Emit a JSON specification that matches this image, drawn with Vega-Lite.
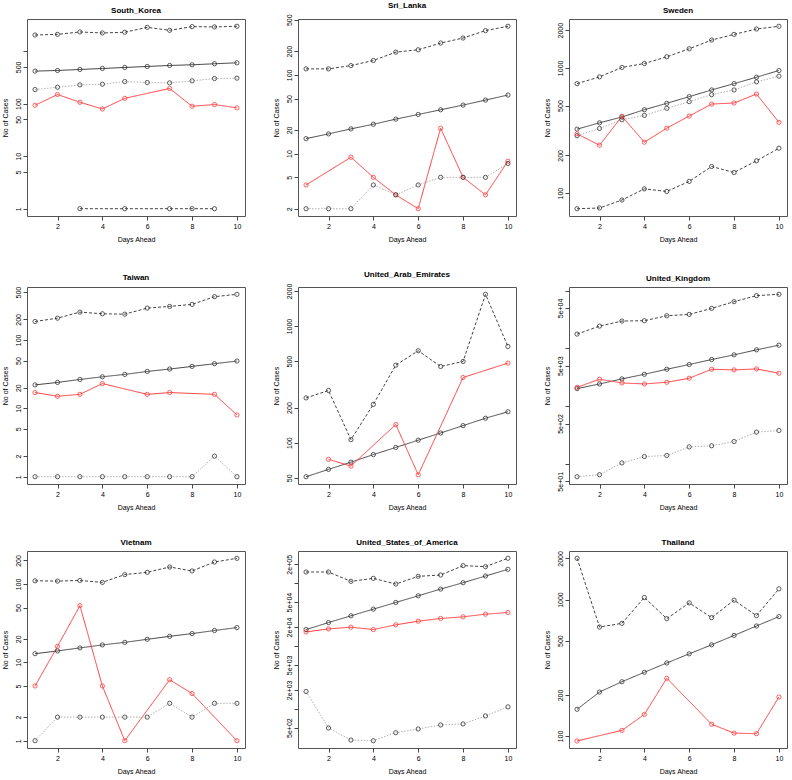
{
  "$schema": "https://vega.github.io/schema/vega-lite/v6.json",
  "padding": {"left": 0, "top": 1, "right": 0, "bottom": 0},
  "config": {
    "font": "Liberation Sans",
    "view": {"stroke": "#555", "strokeWidth": 1},
    "axis": {"grid": false, "domain": false, "tickColor": "#444", "tickSize": 4, "labelFontSize": 7, "titleFontSize": 7, "labelFont": "Liberation Sans", "titleFont": "Liberation Sans", "labelColor": "#000", "titleColor": "#000", "titleFontWeight": "normal", "labelOverlap": false, "labelFlush": false, "labelPadding": 2},
    "axisX": {"titlePadding": 6},
    "axisY": {"labelAngle": -90, "labelAlign": "center", "labelBaseline": "bottom", "titlePadding": 6},
    "title": {"fontSize": 8, "font": "Liberation Sans", "fontWeight": "bold", "offset": 4, "color": "#000"}
  },
  "data": {"values": [
    {"c":"South_Korea","s":"upper","d":1,"v":2020},{"c":"South_Korea","s":"upper","d":2,"v":2080},{"c":"South_Korea","s":"upper","d":3,"v":2310},{"c":"South_Korea","s":"upper","d":4,"v":2210},{"c":"South_Korea","s":"upper","d":5,"v":2280},{"c":"South_Korea","s":"upper","d":6,"v":2830},{"c":"South_Korea","s":"upper","d":7,"v":2480},{"c":"South_Korea","s":"upper","d":8,"v":2920},{"c":"South_Korea","s":"upper","d":9,"v":2880},{"c":"South_Korea","s":"upper","d":10,"v":2960},
    {"c":"South_Korea","s":"pred","d":1,"v":415},{"c":"South_Korea","s":"pred","d":2,"v":427},{"c":"South_Korea","s":"pred","d":3,"v":446},{"c":"South_Korea","s":"pred","d":4,"v":466},{"c":"South_Korea","s":"pred","d":5,"v":487},{"c":"South_Korea","s":"pred","d":6,"v":509},{"c":"South_Korea","s":"pred","d":7,"v":532},{"c":"South_Korea","s":"pred","d":8,"v":548},{"c":"South_Korea","s":"pred","d":9,"v":573},{"c":"South_Korea","s":"pred","d":10,"v":598},
    {"c":"South_Korea","s":"other","d":1,"v":185},{"c":"South_Korea","s":"other","d":2,"v":205},{"c":"South_Korea","s":"other","d":3,"v":227},{"c":"South_Korea","s":"other","d":4,"v":234},{"c":"South_Korea","s":"other","d":5,"v":263},{"c":"South_Korea","s":"other","d":6,"v":252},{"c":"South_Korea","s":"other","d":7,"v":248},{"c":"South_Korea","s":"other","d":8,"v":271},{"c":"South_Korea","s":"other","d":9,"v":300},{"c":"South_Korea","s":"other","d":10,"v":305},
    {"c":"South_Korea","s":"actual","d":1,"v":93},{"c":"South_Korea","s":"actual","d":2,"v":149},{"c":"South_Korea","s":"actual","d":3,"v":106},{"c":"South_Korea","s":"actual","d":4,"v":79},{"c":"South_Korea","s":"actual","d":5,"v":126},{"c":"South_Korea","s":"actual","d":7,"v":194},{"c":"South_Korea","s":"actual","d":8,"v":89},{"c":"South_Korea","s":"actual","d":9,"v":96},{"c":"South_Korea","s":"actual","d":10,"v":83},
    {"c":"South_Korea","s":"lower","d":3,"v":1},{"c":"South_Korea","s":"lower","d":5,"v":1},{"c":"South_Korea","s":"lower","d":7,"v":1},{"c":"South_Korea","s":"lower","d":8,"v":1},{"c":"South_Korea","s":"lower","d":9,"v":1},

    {"c":"Sri_Lanka","s":"upper","d":1,"v":119},{"c":"Sri_Lanka","s":"upper","d":2,"v":119},{"c":"Sri_Lanka","s":"upper","d":3,"v":131},{"c":"Sri_Lanka","s":"upper","d":4,"v":152},{"c":"Sri_Lanka","s":"upper","d":5,"v":194},{"c":"Sri_Lanka","s":"upper","d":6,"v":208},{"c":"Sri_Lanka","s":"upper","d":7,"v":253},{"c":"Sri_Lanka","s":"upper","d":8,"v":293},{"c":"Sri_Lanka","s":"upper","d":9,"v":364},{"c":"Sri_Lanka","s":"upper","d":10,"v":413},
    {"c":"Sri_Lanka","s":"pred","d":1,"v":15.5},{"c":"Sri_Lanka","s":"pred","d":2,"v":17.8},{"c":"Sri_Lanka","s":"pred","d":3,"v":20.6},{"c":"Sri_Lanka","s":"pred","d":4,"v":23.6},{"c":"Sri_Lanka","s":"pred","d":5,"v":27.4},{"c":"Sri_Lanka","s":"pred","d":6,"v":31.4},{"c":"Sri_Lanka","s":"pred","d":7,"v":36.0},{"c":"Sri_Lanka","s":"pred","d":8,"v":41.3},{"c":"Sri_Lanka","s":"pred","d":9,"v":47.8},{"c":"Sri_Lanka","s":"pred","d":10,"v":55.4},
    {"c":"Sri_Lanka","s":"actual","d":1,"v":4},{"c":"Sri_Lanka","s":"actual","d":3,"v":9},{"c":"Sri_Lanka","s":"actual","d":4,"v":5},{"c":"Sri_Lanka","s":"actual","d":5,"v":3},{"c":"Sri_Lanka","s":"actual","d":6,"v":2},{"c":"Sri_Lanka","s":"actual","d":7,"v":21},{"c":"Sri_Lanka","s":"actual","d":8,"v":5},{"c":"Sri_Lanka","s":"actual","d":9,"v":3},{"c":"Sri_Lanka","s":"actual","d":10,"v":8},
    {"c":"Sri_Lanka","s":"other","d":1,"v":2},{"c":"Sri_Lanka","s":"other","d":2,"v":2},{"c":"Sri_Lanka","s":"other","d":3,"v":2},{"c":"Sri_Lanka","s":"other","d":4,"v":4},{"c":"Sri_Lanka","s":"other","d":5,"v":3},{"c":"Sri_Lanka","s":"other","d":6,"v":4},{"c":"Sri_Lanka","s":"other","d":7,"v":5},{"c":"Sri_Lanka","s":"other","d":8,"v":5},{"c":"Sri_Lanka","s":"other","d":9,"v":5},{"c":"Sri_Lanka","s":"other","d":10,"v":7.5},

    {"c":"Sweden","s":"upper","d":1,"v":748},{"c":"Sweden","s":"upper","d":2,"v":847},{"c":"Sweden","s":"upper","d":3,"v":1007},{"c":"Sweden","s":"upper","d":4,"v":1083},{"c":"Sweden","s":"upper","d":5,"v":1225},{"c":"Sweden","s":"upper","d":6,"v":1420},{"c":"Sweden","s":"upper","d":7,"v":1667},{"c":"Sweden","s":"upper","d":8,"v":1850},{"c":"Sweden","s":"upper","d":9,"v":2042},{"c":"Sweden","s":"upper","d":10,"v":2147},
    {"c":"Sweden","s":"pred","d":1,"v":324},{"c":"Sweden","s":"pred","d":2,"v":364},{"c":"Sweden","s":"pred","d":3,"v":405},{"c":"Sweden","s":"pred","d":4,"v":463},{"c":"Sweden","s":"pred","d":5,"v":521},{"c":"Sweden","s":"pred","d":6,"v":589},{"c":"Sweden","s":"pred","d":7,"v":666},{"c":"Sweden","s":"pred","d":8,"v":748},{"c":"Sweden","s":"pred","d":9,"v":842},{"c":"Sweden","s":"pred","d":10,"v":952},
    {"c":"Sweden","s":"other","d":1,"v":287},{"c":"Sweden","s":"other","d":2,"v":328},{"c":"Sweden","s":"other","d":3,"v":385},{"c":"Sweden","s":"other","d":4,"v":417},{"c":"Sweden","s":"other","d":5,"v":475},{"c":"Sweden","s":"other","d":6,"v":537},{"c":"Sweden","s":"other","d":7,"v":611},{"c":"Sweden","s":"other","d":8,"v":666},{"c":"Sweden","s":"other","d":9,"v":773},{"c":"Sweden","s":"other","d":10,"v":858},
    {"c":"Sweden","s":"actual","d":1,"v":297},{"c":"Sweden","s":"actual","d":2,"v":241},{"c":"Sweden","s":"actual","d":3,"v":410},{"c":"Sweden","s":"actual","d":4,"v":255},{"c":"Sweden","s":"actual","d":5,"v":330},{"c":"Sweden","s":"actual","d":6,"v":412},{"c":"Sweden","s":"actual","d":7,"v":514},{"c":"Sweden","s":"actual","d":8,"v":524},{"c":"Sweden","s":"actual","d":9,"v":618},{"c":"Sweden","s":"actual","d":10,"v":367},
    {"c":"Sweden","s":"lower","d":1,"v":75},{"c":"Sweden","s":"lower","d":2,"v":76},{"c":"Sweden","s":"lower","d":3,"v":88},{"c":"Sweden","s":"lower","d":4,"v":108},{"c":"Sweden","s":"lower","d":5,"v":103},{"c":"Sweden","s":"lower","d":6,"v":124},{"c":"Sweden","s":"lower","d":7,"v":163},{"c":"Sweden","s":"lower","d":8,"v":146},{"c":"Sweden","s":"lower","d":9,"v":181},{"c":"Sweden","s":"lower","d":10,"v":228},

    {"c":"Taiwan","s":"upper","d":1,"v":186},{"c":"Taiwan","s":"upper","d":2,"v":208},{"c":"Taiwan","s":"upper","d":3,"v":255},{"c":"Taiwan","s":"upper","d":4,"v":241},{"c":"Taiwan","s":"upper","d":5,"v":238},{"c":"Taiwan","s":"upper","d":6,"v":292},{"c":"Taiwan","s":"upper","d":7,"v":309},{"c":"Taiwan","s":"upper","d":8,"v":331},{"c":"Taiwan","s":"upper","d":9,"v":429},{"c":"Taiwan","s":"upper","d":10,"v":464},
    {"c":"Taiwan","s":"pred","d":1,"v":22.0},{"c":"Taiwan","s":"pred","d":2,"v":23.9},{"c":"Taiwan","s":"pred","d":3,"v":26.4},{"c":"Taiwan","s":"pred","d":4,"v":28.9},{"c":"Taiwan","s":"pred","d":5,"v":31.3},{"c":"Taiwan","s":"pred","d":6,"v":34.6},{"c":"Taiwan","s":"pred","d":7,"v":37.5},{"c":"Taiwan","s":"pred","d":8,"v":41.0},{"c":"Taiwan","s":"pred","d":9,"v":44.9},{"c":"Taiwan","s":"pred","d":10,"v":49.1},
    {"c":"Taiwan","s":"actual","d":1,"v":17},{"c":"Taiwan","s":"actual","d":2,"v":15},{"c":"Taiwan","s":"actual","d":3,"v":16},{"c":"Taiwan","s":"actual","d":4,"v":23},{"c":"Taiwan","s":"actual","d":6,"v":16},{"c":"Taiwan","s":"actual","d":7,"v":17},{"c":"Taiwan","s":"actual","d":9,"v":16},{"c":"Taiwan","s":"actual","d":10,"v":8},
    {"c":"Taiwan","s":"other","d":1,"v":1},{"c":"Taiwan","s":"other","d":2,"v":1},{"c":"Taiwan","s":"other","d":3,"v":1},{"c":"Taiwan","s":"other","d":4,"v":1},{"c":"Taiwan","s":"other","d":5,"v":1},{"c":"Taiwan","s":"other","d":6,"v":1},{"c":"Taiwan","s":"other","d":7,"v":1},{"c":"Taiwan","s":"other","d":8,"v":1},{"c":"Taiwan","s":"other","d":9,"v":2},{"c":"Taiwan","s":"other","d":10,"v":1},

    {"c":"United_Arab_Emirates","s":"upper","d":1,"v":242},{"c":"United_Arab_Emirates","s":"upper","d":2,"v":280},{"c":"United_Arab_Emirates","s":"upper","d":3,"v":106},{"c":"United_Arab_Emirates","s":"upper","d":4,"v":213},{"c":"United_Arab_Emirates","s":"upper","d":5,"v":462},{"c":"United_Arab_Emirates","s":"upper","d":6,"v":614},{"c":"United_Arab_Emirates","s":"upper","d":7,"v":450},{"c":"United_Arab_Emirates","s":"upper","d":8,"v":497},{"c":"United_Arab_Emirates","s":"upper","d":9,"v":1871},{"c":"United_Arab_Emirates","s":"upper","d":10,"v":668},
    {"c":"United_Arab_Emirates","s":"pred","d":1,"v":51},{"c":"United_Arab_Emirates","s":"pred","d":2,"v":59},{"c":"United_Arab_Emirates","s":"pred","d":3,"v":68},{"c":"United_Arab_Emirates","s":"pred","d":4,"v":79},{"c":"United_Arab_Emirates","s":"pred","d":5,"v":91},{"c":"United_Arab_Emirates","s":"pred","d":6,"v":105},{"c":"United_Arab_Emirates","s":"pred","d":7,"v":121},{"c":"United_Arab_Emirates","s":"pred","d":8,"v":140},{"c":"United_Arab_Emirates","s":"pred","d":9,"v":162},{"c":"United_Arab_Emirates","s":"pred","d":10,"v":184},
    {"c":"United_Arab_Emirates","s":"actual","d":2,"v":72},{"c":"United_Arab_Emirates","s":"actual","d":3,"v":63},{"c":"United_Arab_Emirates","s":"actual","d":5,"v":143},{"c":"United_Arab_Emirates","s":"actual","d":6,"v":53},{"c":"United_Arab_Emirates","s":"actual","d":8,"v":362},{"c":"United_Arab_Emirates","s":"actual","d":10,"v":481},

    {"c":"United_Kingdom","s":"upper","d":1,"v":17660},{"c":"United_Kingdom","s":"upper","d":2,"v":24300},{"c":"United_Kingdom","s":"upper","d":3,"v":29700},{"c":"United_Kingdom","s":"upper","d":4,"v":30100},{"c":"United_Kingdom","s":"upper","d":5,"v":36700},{"c":"United_Kingdom","s":"upper","d":6,"v":38700},{"c":"United_Kingdom","s":"upper","d":7,"v":49200},{"c":"United_Kingdom","s":"upper","d":8,"v":64300},{"c":"United_Kingdom","s":"upper","d":9,"v":81800},{"c":"United_Kingdom","s":"upper","d":10,"v":86300},
    {"c":"United_Kingdom","s":"pred","d":1,"v":2010},{"c":"United_Kingdom","s":"pred","d":2,"v":2420},{"c":"United_Kingdom","s":"pred","d":3,"v":2960},{"c":"United_Kingdom","s":"pred","d":4,"v":3560},{"c":"United_Kingdom","s":"pred","d":5,"v":4350},{"c":"United_Kingdom","s":"pred","d":6,"v":5250},{"c":"United_Kingdom","s":"pred","d":7,"v":6410},{"c":"United_Kingdom","s":"pred","d":8,"v":7720},{"c":"United_Kingdom","s":"pred","d":9,"v":9430},{"c":"United_Kingdom","s":"pred","d":10,"v":11350},
    {"c":"United_Kingdom","s":"actual","d":1,"v":2120},{"c":"United_Kingdom","s":"actual","d":2,"v":2920},{"c":"United_Kingdom","s":"actual","d":3,"v":2520},{"c":"United_Kingdom","s":"actual","d":4,"v":2420},{"c":"United_Kingdom","s":"actual","d":5,"v":2590},{"c":"United_Kingdom","s":"actual","d":6,"v":3040},{"c":"United_Kingdom","s":"actual","d":7,"v":4350},{"c":"United_Kingdom","s":"actual","d":8,"v":4240},{"c":"United_Kingdom","s":"actual","d":9,"v":4410},{"c":"United_Kingdom","s":"actual","d":10,"v":3710},
    {"c":"United_Kingdom","s":"other","d":1,"v":60},{"c":"United_Kingdom","s":"other","d":2,"v":65},{"c":"United_Kingdom","s":"other","d":3,"v":104},{"c":"United_Kingdom","s":"other","d":4,"v":134},{"c":"United_Kingdom","s":"other","d":5,"v":140},{"c":"United_Kingdom","s":"other","d":6,"v":197},{"c":"United_Kingdom","s":"other","d":7,"v":206},{"c":"United_Kingdom","s":"other","d":8,"v":244},{"c":"United_Kingdom","s":"other","d":9,"v":355},{"c":"United_Kingdom","s":"other","d":10,"v":379},

    {"c":"Vietnam","s":"upper","d":1,"v":110},{"c":"Vietnam","s":"upper","d":2,"v":109},{"c":"Vietnam","s":"upper","d":3,"v":111},{"c":"Vietnam","s":"upper","d":4,"v":105},{"c":"Vietnam","s":"upper","d":5,"v":132},{"c":"Vietnam","s":"upper","d":6,"v":141},{"c":"Vietnam","s":"upper","d":7,"v":165},{"c":"Vietnam","s":"upper","d":8,"v":147},{"c":"Vietnam","s":"upper","d":9,"v":191},{"c":"Vietnam","s":"upper","d":10,"v":213},
    {"c":"Vietnam","s":"pred","d":1,"v":12.9},{"c":"Vietnam","s":"pred","d":2,"v":14.0},{"c":"Vietnam","s":"pred","d":3,"v":15.3},{"c":"Vietnam","s":"pred","d":4,"v":16.7},{"c":"Vietnam","s":"pred","d":5,"v":18.0},{"c":"Vietnam","s":"pred","d":6,"v":19.7},{"c":"Vietnam","s":"pred","d":7,"v":21.5},{"c":"Vietnam","s":"pred","d":8,"v":23.3},{"c":"Vietnam","s":"pred","d":9,"v":25.5},{"c":"Vietnam","s":"pred","d":10,"v":27.8},
    {"c":"Vietnam","s":"actual","d":1,"v":5},{"c":"Vietnam","s":"actual","d":2,"v":16},{"c":"Vietnam","s":"actual","d":3,"v":53},{"c":"Vietnam","s":"actual","d":4,"v":5},{"c":"Vietnam","s":"actual","d":5,"v":1},{"c":"Vietnam","s":"actual","d":7,"v":6},{"c":"Vietnam","s":"actual","d":8,"v":4},{"c":"Vietnam","s":"actual","d":10,"v":1},
    {"c":"Vietnam","s":"other","d":1,"v":1},{"c":"Vietnam","s":"other","d":2,"v":2},{"c":"Vietnam","s":"other","d":3,"v":2},{"c":"Vietnam","s":"other","d":4,"v":2},{"c":"Vietnam","s":"other","d":5,"v":2},{"c":"Vietnam","s":"other","d":6,"v":2},{"c":"Vietnam","s":"other","d":7,"v":3},{"c":"Vietnam","s":"other","d":8,"v":2},{"c":"Vietnam","s":"other","d":9,"v":3},{"c":"Vietnam","s":"other","d":10,"v":3},

    {"c":"United_States_of_America","s":"upper","d":1,"v":150800},{"c":"United_States_of_America","s":"upper","d":2,"v":150800},{"c":"United_States_of_America","s":"upper","d":3,"v":107000},{"c":"United_States_of_America","s":"upper","d":4,"v":119400},{"c":"United_States_of_America","s":"upper","d":5,"v":97000},{"c":"United_States_of_America","s":"upper","d":6,"v":128600},{"c":"United_States_of_America","s":"upper","d":7,"v":135000},{"c":"United_States_of_America","s":"upper","d":8,"v":190400},{"c":"United_States_of_America","s":"upper","d":9,"v":183600},{"c":"United_States_of_America","s":"upper","d":10,"v":249400},
    {"c":"United_States_of_America","s":"pred","d":1,"v":18240},{"c":"United_States_of_America","s":"pred","d":2,"v":23600},{"c":"United_States_of_America","s":"pred","d":3,"v":30200},{"c":"United_States_of_America","s":"pred","d":4,"v":38600},{"c":"United_States_of_America","s":"pred","d":5,"v":49300},{"c":"United_States_of_America","s":"pred","d":6,"v":63000},{"c":"United_States_of_America","s":"pred","d":7,"v":80600},{"c":"United_States_of_America","s":"pred","d":8,"v":101800},{"c":"United_States_of_America","s":"pred","d":9,"v":130000},{"c":"United_States_of_America","s":"pred","d":10,"v":166400},
    {"c":"United_States_of_America","s":"actual","d":1,"v":16740},{"c":"United_States_of_America","s":"actual","d":2,"v":18700},{"c":"United_States_of_America","s":"actual","d":3,"v":19900},{"c":"United_States_of_America","s":"actual","d":4,"v":18240},{"c":"United_States_of_America","s":"actual","d":5,"v":21700},{"c":"United_States_of_America","s":"actual","d":6,"v":24800},{"c":"United_States_of_America","s":"actual","d":7,"v":27400},{"c":"United_States_of_America","s":"actual","d":8,"v":29100},{"c":"United_States_of_America","s":"actual","d":9,"v":32100},{"c":"United_States_of_America","s":"actual","d":10,"v":34100},
    {"c":"United_States_of_America","s":"other","d":1,"v":1880},{"c":"United_States_of_America","s":"other","d":2,"v":493},{"c":"United_States_of_America","s":"other","d":3,"v":317},{"c":"United_States_of_America","s":"other","d":4,"v":309},{"c":"United_States_of_America","s":"other","d":5,"v":415},{"c":"United_States_of_America","s":"other","d":6,"v":475},{"c":"United_States_of_America","s":"other","d":7,"v":551},{"c":"United_States_of_America","s":"other","d":8,"v":572},{"c":"United_States_of_America","s":"other","d":9,"v":767},{"c":"United_States_of_America","s":"other","d":10,"v":1069},

    {"c":"Thailand","s":"upper","d":1,"v":2005},{"c":"Thailand","s":"upper","d":2,"v":629},{"c":"Thailand","s":"upper","d":3,"v":669},{"c":"Thailand","s":"upper","d":4,"v":1035},{"c":"Thailand","s":"upper","d":5,"v":724},{"c":"Thailand","s":"upper","d":6,"v":945},{"c":"Thailand","s":"upper","d":7,"v":737},{"c":"Thailand","s":"upper","d":8,"v":989},{"c":"Thailand","s":"upper","d":9,"v":762},{"c":"Thailand","s":"upper","d":10,"v":1198},
    {"c":"Thailand","s":"pred","d":1,"v":157},{"c":"Thailand","s":"pred","d":2,"v":210},{"c":"Thailand","s":"pred","d":3,"v":250},{"c":"Thailand","s":"pred","d":4,"v":293},{"c":"Thailand","s":"pred","d":5,"v":343},{"c":"Thailand","s":"pred","d":6,"v":400},{"c":"Thailand","s":"pred","d":7,"v":466},{"c":"Thailand","s":"pred","d":8,"v":546},{"c":"Thailand","s":"pred","d":9,"v":640},{"c":"Thailand","s":"pred","d":10,"v":750},
    {"c":"Thailand","s":"actual","d":1,"v":92},{"c":"Thailand","s":"actual","d":3,"v":110},{"c":"Thailand","s":"actual","d":4,"v":144},{"c":"Thailand","s":"actual","d":5,"v":265},{"c":"Thailand","s":"actual","d":7,"v":122},{"c":"Thailand","s":"actual","d":8,"v":105},{"c":"Thailand","s":"actual","d":9,"v":104},{"c":"Thailand","s":"actual","d":10,"v":193}
  ]},
  "columns": 3,
  "spacing": {"row": 27, "column": 25},
  "resolve": {"scale": {"x": "independent", "y": "independent"}},
  "concat": [
    {"title": "South_Korea", "width": 218, "height": 197,
     "transform": [{"filter": "datum.c === 'South_Korea'"}],
     "encoding": {
       "x": {"field": "d", "type": "quantitative", "scale": {"domain": [0.64, 10.36], "nice": false, "zero": false}, "axis": {"values": [2,4,6,8,10], "title": "Days Ahead"}},
       "y": {"field": "v", "type": "quantitative", "scale": {"type": "log", "domain": [0.726, 4074], "nice": false}, "axis": {"values": [1,5,10,50,100,500,1000], "format": "d", "labelExpr": "datum.value == 1000 ? '' : datum.label", "title": "No of Cases"}}
     },
     "layer": [
       {"mark": {"type": "line", "strokeWidth": 1}, "encoding": {"color": {"field": "s", "type": "nominal", "scale": {"domain": ["upper","lower","pred","actual","other"], "range": ["#444","#444","#444","#ff3b3b","#b0b0b0"]}, "legend": null}, "strokeDash": {"field": "s", "type": "nominal", "scale": {"domain": ["upper","lower","pred","actual","other"], "range": [[3,2],[3,2],[1,0],[1,0],[1.5,1.5]]}, "legend": null}}},
       {"mark": {"type": "point", "filled": false, "size": 18, "strokeWidth": 0.8, "opacity": 1}, "encoding": {"color": {"condition": {"test": "datum.s === 'actual'", "value": "#ff3b3b"}, "value": "#333"}}}
     ]},
    {"title": "Sri_Lanka", "width": 218, "height": 197,
     "transform": [{"filter": "datum.c === 'Sri_Lanka'"}],
     "encoding": {
       "x": {"field": "d", "type": "quantitative", "scale": {"domain": [0.64, 10.36], "nice": false, "zero": false}, "axis": {"values": [2,4,6,8,10], "title": "Days Ahead"}},
       "y": {"field": "v", "type": "quantitative", "scale": {"type": "log", "domain": [1.616, 511], "nice": false}, "axis": {"values": [2,5,10,20,50,100,200,500], "format": "d", "title": "No of Cases"}}
     },
     "layer": [
       {"mark": {"type": "line", "strokeWidth": 1}, "encoding": {"color": {"field": "s", "type": "nominal", "scale": {"domain": ["upper","lower","pred","actual","other"], "range": ["#444","#444","#444","#ff3b3b","#b0b0b0"]}, "legend": null}, "strokeDash": {"field": "s", "type": "nominal", "scale": {"domain": ["upper","lower","pred","actual","other"], "range": [[3,2],[3,2],[1,0],[1,0],[1.5,1.5]]}, "legend": null}}},
       {"mark": {"type": "point", "filled": false, "size": 18, "strokeWidth": 0.8, "opacity": 1}, "encoding": {"color": {"condition": {"test": "datum.s === 'actual'", "value": "#ff3b3b"}, "value": "#333"}}}
     ]},
    {"title": "Sweden", "width": 218, "height": 197,
     "transform": [{"filter": "datum.c === 'Sweden'"}],
     "encoding": {
       "x": {"field": "d", "type": "quantitative", "scale": {"domain": [0.64, 10.36], "nice": false, "zero": false}, "axis": {"values": [2,4,6,8,10], "title": "Days Ahead"}},
       "y": {"field": "v", "type": "quantitative", "scale": {"type": "log", "domain": [65.6, 2455], "nice": false}, "axis": {"values": [100,200,500,1000,2000], "format": "d", "title": "No of Cases"}}
     },
     "layer": [
       {"mark": {"type": "line", "strokeWidth": 1}, "encoding": {"color": {"field": "s", "type": "nominal", "scale": {"domain": ["upper","lower","pred","actual","other"], "range": ["#444","#444","#444","#ff3b3b","#b0b0b0"]}, "legend": null}, "strokeDash": {"field": "s", "type": "nominal", "scale": {"domain": ["upper","lower","pred","actual","other"], "range": [[3,2],[3,2],[1,0],[1,0],[1.5,1.5]]}, "legend": null}}},
       {"mark": {"type": "point", "filled": false, "size": 18, "strokeWidth": 0.8, "opacity": 1}, "encoding": {"color": {"condition": {"test": "datum.s === 'actual'", "value": "#ff3b3b"}, "value": "#333"}}}
     ]},
    {"title": "Taiwan", "width": 218, "height": 197,
     "transform": [{"filter": "datum.c === 'Taiwan'"}],
     "encoding": {
       "x": {"field": "d", "type": "quantitative", "scale": {"domain": [0.64, 10.36], "nice": false, "zero": false}, "axis": {"values": [2,4,6,8,10], "title": "Days Ahead"}},
       "y": {"field": "v", "type": "quantitative", "scale": {"type": "log", "domain": [0.782, 594], "nice": false}, "axis": {"values": [1,2,5,10,20,50,100,200,500], "format": "d", "title": "No of Cases"}}
     },
     "layer": [
       {"mark": {"type": "line", "strokeWidth": 1}, "encoding": {"color": {"field": "s", "type": "nominal", "scale": {"domain": ["upper","lower","pred","actual","other"], "range": ["#444","#444","#444","#ff3b3b","#b0b0b0"]}, "legend": null}, "strokeDash": {"field": "s", "type": "nominal", "scale": {"domain": ["upper","lower","pred","actual","other"], "range": [[3,2],[3,2],[1,0],[1,0],[1.5,1.5]]}, "legend": null}}},
       {"mark": {"type": "point", "filled": false, "size": 18, "strokeWidth": 0.8, "opacity": 1}, "encoding": {"color": {"condition": {"test": "datum.s === 'actual'", "value": "#ff3b3b"}, "value": "#333"}}}
     ]},
    {"title": "United_Arab_Emirates", "width": 218, "height": 197,
     "transform": [{"filter": "datum.c === 'United_Arab_Emirates'"}],
     "encoding": {
       "x": {"field": "d", "type": "quantitative", "scale": {"domain": [0.64, 10.36], "nice": false, "zero": false}, "axis": {"values": [2,4,6,8,10], "title": "Days Ahead"}},
       "y": {"field": "v", "type": "quantitative", "scale": {"type": "log", "domain": [44.2, 2162], "nice": false}, "axis": {"values": [50,100,200,500,1000,2000], "format": "d", "title": "No of Cases"}}
     },
     "layer": [
       {"mark": {"type": "line", "strokeWidth": 1}, "encoding": {"color": {"field": "s", "type": "nominal", "scale": {"domain": ["upper","lower","pred","actual","other"], "range": ["#444","#444","#444","#ff3b3b","#b0b0b0"]}, "legend": null}, "strokeDash": {"field": "s", "type": "nominal", "scale": {"domain": ["upper","lower","pred","actual","other"], "range": [[3,2],[3,2],[1,0],[1,0],[1.5,1.5]]}, "legend": null}}},
       {"mark": {"type": "point", "filled": false, "size": 18, "strokeWidth": 0.8, "opacity": 1}, "encoding": {"color": {"condition": {"test": "datum.s === 'actual'", "value": "#ff3b3b"}, "value": "#333"}}}
     ]},
    {"title": "United_Kingdom", "width": 218, "height": 197,
     "transform": [{"filter": "datum.c === 'United_Kingdom'"}],
     "encoding": {
       "x": {"field": "d", "type": "quantitative", "scale": {"domain": [0.64, 10.36], "nice": false, "zero": false}, "axis": {"values": [2,4,6,8,10], "title": "Days Ahead"}},
       "y": {"field": "v", "type": "quantitative", "scale": {"type": "log", "domain": [44.9, 115400], "nice": false}, "axis": {"values": [50,100,500,1000,5000,10000,50000,100000], "labelExpr": "datum.value == 50 ? '5e+01' : datum.value == 500 ? '5e+02' : datum.value == 5000 ? '5e+03' : datum.value == 50000 ? '5e+04' : ''", "title": "No of Cases"}}
     },
     "layer": [
       {"mark": {"type": "line", "strokeWidth": 1}, "encoding": {"color": {"field": "s", "type": "nominal", "scale": {"domain": ["upper","lower","pred","actual","other"], "range": ["#444","#444","#444","#ff3b3b","#b0b0b0"]}, "legend": null}, "strokeDash": {"field": "s", "type": "nominal", "scale": {"domain": ["upper","lower","pred","actual","other"], "range": [[3,2],[3,2],[1,0],[1,0],[1.5,1.5]]}, "legend": null}}},
       {"mark": {"type": "point", "filled": false, "size": 18, "strokeWidth": 0.8, "opacity": 1}, "encoding": {"color": {"condition": {"test": "datum.s === 'actual'", "value": "#ff3b3b"}, "value": "#333"}}}
     ]},
    {"title": "Vietnam", "width": 218, "height": 197,
     "transform": [{"filter": "datum.c === 'Vietnam'"}],
     "encoding": {
       "x": {"field": "d", "type": "quantitative", "scale": {"domain": [0.64, 10.36], "nice": false, "zero": false}, "axis": {"values": [2,4,6,8,10], "title": "Days Ahead"}},
       "y": {"field": "v", "type": "quantitative", "scale": {"type": "log", "domain": [0.807, 264], "nice": false}, "axis": {"values": [1,2,5,10,20,50,100,200], "format": "d", "title": "No of Cases"}}
     },
     "layer": [
       {"mark": {"type": "line", "strokeWidth": 1}, "encoding": {"color": {"field": "s", "type": "nominal", "scale": {"domain": ["upper","lower","pred","actual","other"], "range": ["#444","#444","#444","#ff3b3b","#b0b0b0"]}, "legend": null}, "strokeDash": {"field": "s", "type": "nominal", "scale": {"domain": ["upper","lower","pred","actual","other"], "range": [[3,2],[3,2],[1,0],[1,0],[1.5,1.5]]}, "legend": null}}},
       {"mark": {"type": "point", "filled": false, "size": 18, "strokeWidth": 0.8, "opacity": 1}, "encoding": {"color": {"condition": {"test": "datum.s === 'actual'", "value": "#ff3b3b"}, "value": "#333"}}}
     ]},
    {"title": "United_States_of_America", "width": 218, "height": 197,
     "transform": [{"filter": "datum.c === 'United_States_of_America'"}],
     "encoding": {
       "x": {"field": "d", "type": "quantitative", "scale": {"domain": [0.64, 10.36], "nice": false, "zero": false}, "axis": {"values": [2,4,6,8,10], "title": "Days Ahead"}},
       "y": {"field": "v", "type": "quantitative", "scale": {"type": "log", "domain": [236.6, 325800], "nice": false}, "axis": {"values": [500,1000,2000,5000,10000,20000,50000,100000,200000], "labelExpr": "datum.value == 500 ? '5e+02' : datum.value == 2000 ? '2e+03' : datum.value == 5000 ? '5e+03' : datum.value == 20000 ? '2e+04' : datum.value == 50000 ? '5e+04' : datum.value == 200000 ? '2e+05' : ''", "title": "No of Cases"}}
     },
     "layer": [
       {"mark": {"type": "line", "strokeWidth": 1}, "encoding": {"color": {"field": "s", "type": "nominal", "scale": {"domain": ["upper","lower","pred","actual","other"], "range": ["#444","#444","#444","#ff3b3b","#b0b0b0"]}, "legend": null}, "strokeDash": {"field": "s", "type": "nominal", "scale": {"domain": ["upper","lower","pred","actual","other"], "range": [[3,2],[3,2],[1,0],[1,0],[1.5,1.5]]}, "legend": null}}},
       {"mark": {"type": "point", "filled": false, "size": 18, "strokeWidth": 0.8, "opacity": 1}, "encoding": {"color": {"condition": {"test": "datum.s === 'actual'", "value": "#ff3b3b"}, "value": "#333"}}}
     ]},
    {"title": "Thailand", "width": 218, "height": 197,
     "transform": [{"filter": "datum.c === 'Thailand'"}],
     "encoding": {
       "x": {"field": "d", "type": "quantitative", "scale": {"domain": [0.64, 10.36], "nice": false, "zero": false}, "axis": {"values": [2,4,6,8,10], "title": "Days Ahead"}},
       "y": {"field": "v", "type": "quantitative", "scale": {"type": "log", "domain": [81.7, 2268], "nice": false}, "axis": {"values": [100,200,500,1000,2000], "format": "d", "title": "No of Cases"}}
     },
     "layer": [
       {"mark": {"type": "line", "strokeWidth": 1}, "encoding": {"color": {"field": "s", "type": "nominal", "scale": {"domain": ["upper","lower","pred","actual","other"], "range": ["#444","#444","#444","#ff3b3b","#b0b0b0"]}, "legend": null}, "strokeDash": {"field": "s", "type": "nominal", "scale": {"domain": ["upper","lower","pred","actual","other"], "range": [[3,2],[3,2],[1,0],[1,0],[1.5,1.5]]}, "legend": null}}},
       {"mark": {"type": "point", "filled": false, "size": 18, "strokeWidth": 0.8, "opacity": 1}, "encoding": {"color": {"condition": {"test": "datum.s === 'actual'", "value": "#ff3b3b"}, "value": "#333"}}}
     ]}
  ]
}
